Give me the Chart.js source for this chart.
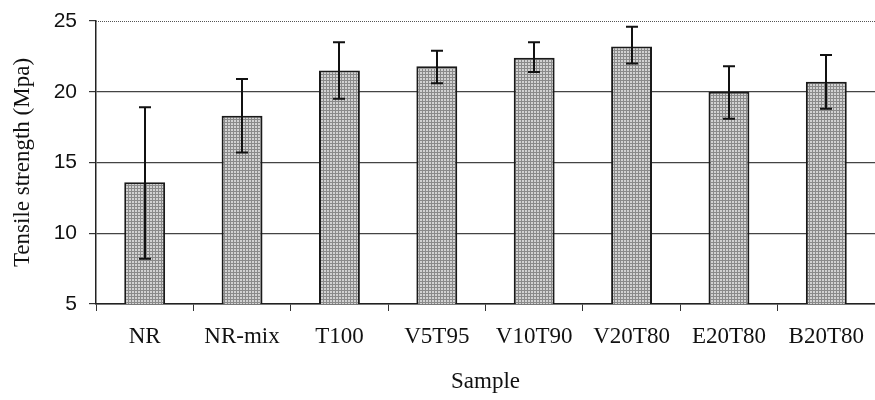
<!DOCTYPE html>
<html>
<head>
<meta charset="utf-8">
<script src="https://cdn.jsdelivr.net/npm/chart.js@4/dist/chart.umd.min.js"></script>
<style>
  html, body { margin: 0; padding: 0; background: #fff; overflow: hidden; }
  #wrap { width: 875px; height: 400px; }
</style>
</head>
<body>
<div id="wrap"><canvas id="tensileChart" width="875" height="400"></canvas></div>
<script>
// sample names on the x axis
var samples = ['NR', 'NR-mix', 'T100', 'V5T95', 'V10T90', 'V20T80', 'E20T80', 'B20T80'];
// mean tensile strength (MPa)
var strength = [13.6, 18.3, 21.5, 21.8, 22.4, 23.2, 20.0, 20.7];
// error bar ends
var errLow  = [8.2, 15.7, 19.5, 20.6, 21.4, 22.0, 18.1, 18.8];
var errHigh = [18.9, 20.9, 23.5, 22.9, 23.5, 24.6, 21.8, 22.6];
var yTicks = [5, 10, 15, 20, 25];

// stippled grey fill like the printed figure
function makeStipple() {
  var c = document.createElement('canvas');
  c.width = 3; c.height = 3;
  var g = c.getContext('2d');
  g.fillStyle = '#8a8a8a';
  g.fillRect(0, 0, 3, 3);
  g.fillStyle = '#d2d2d2';
  g.fillRect(0, 0, 2, 2);
  return g.createPattern(c, 'repeat');
}

var errorBars = {
  id: 'errorBars',
  afterDatasetsDraw: function (chart) {
    var ctx = chart.ctx;
    var y = chart.scales.y;
    var meta = chart.getDatasetMeta(0);
    ctx.save();
    ctx.strokeStyle = '#111';
    ctx.lineWidth = 2;
    meta.data.forEach(function (bar, i) {
      var x = Math.round(bar.x);
      var top = y.getPixelForValue(errHigh[i]);
      var bot = y.getPixelForValue(errLow[i]);
      ctx.beginPath();
      ctx.moveTo(x, top); ctx.lineTo(x, bot);
      ctx.moveTo(x - 6, top); ctx.lineTo(x + 6, top);
      ctx.moveTo(x - 6, bot); ctx.lineTo(x + 6, bot);
      ctx.stroke();
    });
    ctx.restore();
  }
};

// dotted line along the top of the plot
var topBorder = {
  id: 'topBorder',
  beforeDatasetsDraw: function (chart) {
    var a = chart.chartArea;
    var ctx = chart.ctx;
    ctx.save();
    ctx.strokeStyle = '#555';
    ctx.lineWidth = 1;
    ctx.setLineDash([1, 1]);
    ctx.beginPath();
    ctx.moveTo(a.left, Math.round(a.top) + 0.5);
    ctx.lineTo(a.right, Math.round(a.top) + 0.5);
    ctx.stroke();
    ctx.restore();
  }
};

document.addEventListener('DOMContentLoaded', function () {
  var ctx = document.getElementById('tensileChart').getContext('2d');
  new Chart(ctx, {
    type: 'bar',
    data: {
      labels: samples,
      datasets: [{
        label: 'Tensile strength',
        data: strength,
        backgroundColor: makeStipple(),
        borderColor: '#1a1a1a',
        borderWidth: 2,
        borderSkipped: false,
        barPercentage: 0.42,
        categoryPercentage: 1
      }]
    },
    options: {
      responsive: false,
      animation: false,
      layout: { padding: { top: 21, right: 0, left: 9, bottom: 4 } },
      plugins: {
        legend: { display: false },
        tooltip: { enabled: false }
      },
      scales: {
        x: {
          afterFit: function (axis) {
            axis.height = 92;
            axis.paddingLeft = 0;
            axis.paddingRight = 0;
          },
          grid: {
            offset: true,
            drawOnChartArea: false,
            drawTicks: true,
            tickLength: 7,
            color: '#333'
          },
          border: { color: '#222', width: 1.5 },
          ticks: {
            color: '#111',
            padding: 12,
            maxRotation: 0,
            font: { family: 'Liberation Serif', size: 23 }
          },
          title: {
            display: true,
            text: 'Sample',
            color: '#111',
            padding: { top: 5, bottom: 0 },
            font: { family: 'Liberation Serif', size: 23 }
          }
        },
        y: {
          min: 5,
          max: 25,
          afterBuildTicks: function (axis) {
            axis.ticks = yTicks.map(function (v) { return { value: v }; });
          },
          afterFit: function (axis) {
            axis.width = 87;
            axis.paddingTop = 0;
            axis.paddingBottom = 0;
          },
          grid: {
            color: function (c) {
              return c.tick && c.tick.value === 25 ? 'rgba(0,0,0,0)' : '#444';
            },
            tickColor: '#333',
            tickLength: 7,
            lineWidth: 1.2
          },
          border: { color: '#222', width: 1.5 },
          ticks: {
            color: '#111',
            padding: 12,
            font: { family: 'Liberation Sans', size: 21 }
          },
          title: {
            display: true,
            text: 'Tensile strength (Mpa)',
            color: '#111',
            padding: { top: 0, bottom: 4 },
            font: { family: 'Liberation Serif', size: 23 }
          }
        }
      }
    },
    plugins: [topBorder, errorBars]
  });
});
</script>
</body>
</html>
